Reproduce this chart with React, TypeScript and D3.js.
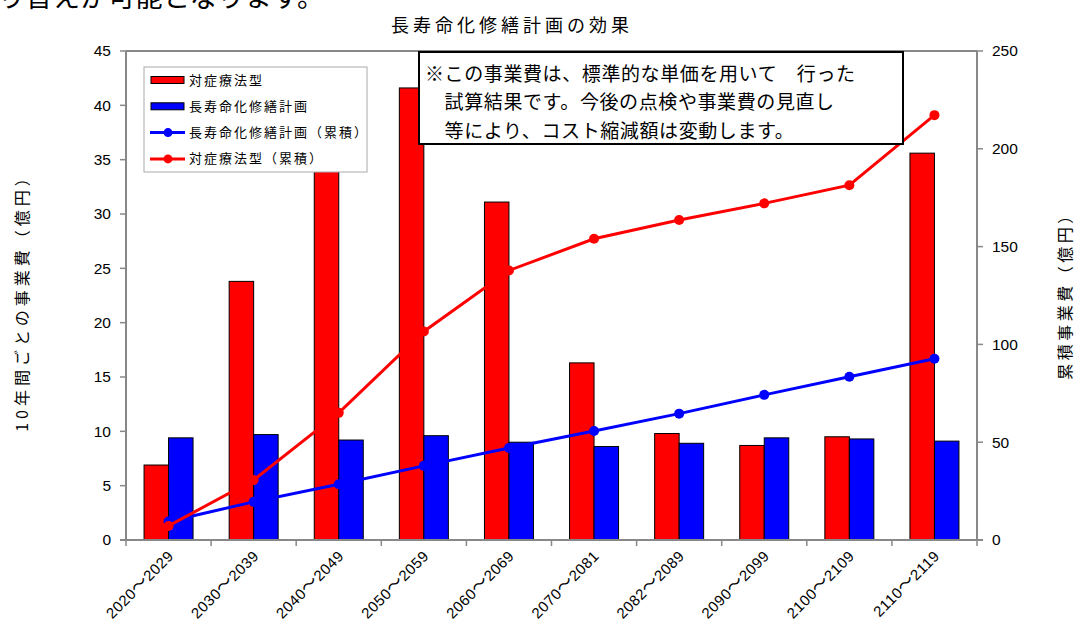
import React from "react";
import * as d3 from "d3";

const categories = ["2020～2029","2030～2039","2040～2049","2050～2059","2060～2069","2070～2081","2082～2089","2090～2099","2100～2109","2110～2119"];
const redBars = [6.9, 23.8, 34.4, 41.6, 31.1, 16.3, 9.8, 8.7, 9.5, 35.6];
const blueBars = [9.4, 9.7, 9.2, 9.6, 9.0, 8.6, 8.9, 9.4, 9.3, 9.1];
const blueCum = [9.5, 19.5, 28.5, 37.9, 47.0, 55.7, 64.6, 74.2, 83.5, 92.7];
const redCum = [7.2, 30.7, 65.0, 106.6, 137.8, 154.0, 163.6, 172.1, 181.4, 217.2];
const leftTicks = [0, 5, 10, 15, 20, 25, 30, 35, 40, 45];
const rightTicks = [0, 50, 100, 150, 200, 250];
const legendItems = [
  { label: "対症療法型", type: "bar", color: "#ff0000" },
  { label: "長寿命化修繕計画", type: "bar", color: "#0000ff" },
  { label: "長寿命化修繕計画（累積）", type: "line", color: "#0000ff" },
  { label: "対症療法型（累積）", type: "line", color: "#ff0000" },
];
const noteLines = ["※この事業費は、標準的な単価を用いて　行った", "　試算結果です。今後の点検や事業費の見直し", "　等により、コスト縮減額は変動します。"];

const FONT = "'Liberation Sans', 'Noto Sans CJK JP', sans-serif";
const JFONT = "'Noto Sans CJK JP', 'Liberation Sans', sans-serif";

export default function App() {
  const W = 1077, H = 631;
  const left = 126, right = 977, top = 51, bottom = 540;
  const x = d3.scaleBand<string>().domain(categories).range([left, right]).paddingInner(0).paddingOuter(0);
  const yL = d3.scaleLinear().domain([0, 45]).range([bottom, top]);
  const yR = d3.scaleLinear().domain([0, 250]).range([bottom, top]);
  const bw = 24.5;
  const cx = (c: string) => (x(c) as number) + x.bandwidth() / 2;
  const lineGen = (vals: number[]) =>
    d3.line<number>().x((_, i) => cx(categories[i])).y((v) => yR(v))(vals) as string;
  const axisColor = "#888888";
  return (
    <svg width={W} height={H} style={{ position: "absolute", left: 0, top: 0, background: "#fff" }} fontFamily={FONT}>
      <rect x={0} y={0} width={W} height={H} fill="#fff" />
      <text x={-2} y={7} fontSize={27} fontFamily={JFONT} fill="#000" letterSpacing={0.5}>り替えが可能となります。</text>
      <text x={512} y={32} fontSize={18} textAnchor="middle" fontFamily={JFONT} fill="#000" letterSpacing={4}>長寿命化修繕計画の効果</text>

      {/* plot top border */}
      <line x1={left} x2={right} y1={top} y2={top} stroke={axisColor} strokeWidth={2} />

      {/* bars */}
      {categories.map((c, i) => (
        <g key={c}>
          <rect x={cx(c) - bw} y={yL(redBars[i])} width={bw} height={bottom - yL(redBars[i])} fill="#ff0000" stroke="#000" strokeWidth={1} />
          <rect x={cx(c)} y={yL(blueBars[i])} width={bw} height={bottom - yL(blueBars[i])} fill="#0000ff" stroke="#000" strokeWidth={1} />
        </g>
      ))}

      {/* axes */}
      <line x1={left} x2={left} y1={top} y2={bottom} stroke={axisColor} strokeWidth={2} />
      <line x1={right} x2={right} y1={top} y2={bottom} stroke={axisColor} strokeWidth={2} />
      <line x1={left - 6} x2={right + 6} y1={bottom} y2={bottom} stroke={axisColor} strokeWidth={2} />
      {leftTicks.map((t) => (
        <g key={"l" + t}>
          <line x1={left - 6} x2={left} y1={yL(t)} y2={yL(t)} stroke={axisColor} strokeWidth={1.5} />
          <text x={left - 15} y={yL(t)} dy="0.35em" fontSize={15.5} textAnchor="end" fill="#000">{t}</text>
        </g>
      ))}
      {rightTicks.map((t) => (
        <g key={"r" + t}>
          <line x1={right} x2={right + 6} y1={yR(t)} y2={yR(t)} stroke={axisColor} strokeWidth={1.5} />
          <text x={right + 15} y={yR(t)} dy="0.35em" fontSize={15.5} textAnchor="start" fill="#000">{t}</text>
        </g>
      ))}
      {categories.map((c, i) => (
        <line key={"xt" + i} x1={x(c) as number} x2={x(c) as number} y1={bottom} y2={bottom + 6} stroke={axisColor} strokeWidth={1.5} />
      ))}
      <line x1={right} x2={right} y1={bottom} y2={bottom + 6} stroke={axisColor} strokeWidth={1.5} />
      {categories.map((c) => {
        const parts = c.split("～");
        return (
          <text key={"xl" + c} transform={`translate(${cx(c) + 6},${bottom + 17}) rotate(-45)`} fontSize={15} textAnchor="end" fill="#000" letterSpacing={0.5}>
            {parts[0]}
            <tspan fontFamily={JFONT} fontSize={17}>～</tspan>
            {parts[1]}
          </text>
        );
      })}

      {/* lines */}
      <path d={lineGen(blueCum)} fill="none" stroke="#0000ff" strokeWidth={3} />
      {blueCum.map((v, i) => <circle key={"bc" + i} cx={cx(categories[i])} cy={yR(v)} r={5} fill="#0000ff" />)}
      <path d={lineGen(redCum)} fill="none" stroke="#ff0000" strokeWidth={3} />
      {redCum.map((v, i) => <circle key={"rc" + i} cx={cx(categories[i])} cy={yR(v)} r={5} fill="#ff0000" />)}

      {/* axis titles */}
      <text transform="translate(28,299) rotate(-90)" fontSize={16} textAnchor="middle" fontFamily={JFONT} fill="#000" letterSpacing={4}>10年間ごとの事業費（億円）</text>
      <text transform="translate(1071,292) rotate(-90)" fontSize={16} textAnchor="middle" fontFamily={JFONT} fill="#000" letterSpacing={3.5}>累積事業費（億円）</text>

      {/* legend */}
      <rect x={144} y={67} width={223} height={105} fill="#fff" stroke="#aaaaaa" strokeWidth={1} />
      {legendItems.map((it, i) => {
        const yy = 80 + i * 26.3;
        return (
          <g key={it.label}>
            {it.type === "bar" ? (
              <rect x={151} y={yy - 3.5} width={33} height={7} fill={it.color} stroke="#000" strokeWidth={1} />
            ) : (
              <g>
                <line x1={150} x2={185} y1={yy} y2={yy} stroke={it.color} strokeWidth={3} />
                <circle cx={168} cy={yy} r={4.5} fill={it.color} />
              </g>
            )}
            <text x={189} y={yy} dy="0.35em" fontSize={13} fontFamily={JFONT} fill="#000" letterSpacing={2}>{it.label}</text>
          </g>
        );
      })}

      {/* note box */}
      <rect x={419} y={52} width={484} height={92} fill="#fff" stroke="#000" strokeWidth={2} />
      {noteLines.map((l, i) => (
        <text key={"n" + i} x={425} y={74 + i * 28.5} dy="0.35em" fontSize={19} fontFamily={JFONT} fill="#000" letterSpacing={0.6} style={{ whiteSpace: "pre" }}>{l}</text>
      ))}
    </svg>
  );
}
